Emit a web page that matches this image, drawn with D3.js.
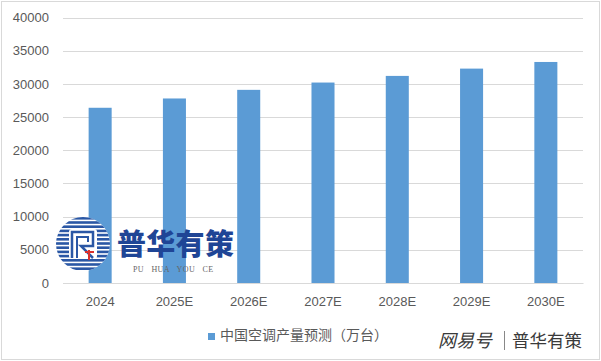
<!DOCTYPE html>
<html><head><meta charset="utf-8">
<script src="https://cdn.jsdelivr.net/npm/d3@7"></script>
<style>
html,body{margin:0;padding:0;background:#fff;}
svg{display:block;}
</style></head>
<body>
<svg id="chart" width="601" height="361"></svg>
<script>
const categories = ["2024","2025E","2026E","2027E","2028E","2029E","2030E"];
const values = [26400, 27800, 29100, 30200, 31200, 32300, 33300];
const yTicks = [0,5000,10000,15000,20000,25000,30000,35000,40000];
const seriesName = "中国空调产量预测（万台）";

const svg = d3.select("#chart");
const W = 601, H = 361;
const m = {left:63, right:18, top:17.5, bottom:78};

svg.append("rect").attr("x",1.5).attr("y",1.5).attr("width",W-3).attr("height",H-3)
  .attr("fill","#fff").attr("stroke","#d9d9d9").attr("stroke-width",1);

const x = d3.scaleBand().domain(categories).range([m.left, W-m.right]).paddingInner(0.69).paddingOuter(0.345);
const y = d3.scaleLinear().domain([0,40000]).range([H-m.bottom, m.top]);

// gridlines
svg.append("g").selectAll("line").data(yTicks).join("line")
  .attr("x1", m.left).attr("x2", W-m.right)
  .attr("y1", d=>Math.round(y(d))+0.5).attr("y2", d=>Math.round(y(d))+0.5)
  .attr("stroke","#d9d9d9").attr("stroke-width",1);

// y axis labels
const yAxis = d3.axisLeft(y).tickValues(yTicks).tickSize(0).tickPadding(14).tickFormat(d3.format("d"));
const yg = svg.append("g").attr("transform",`translate(${m.left},0)`).call(yAxis);
yg.select(".domain").remove();
yg.selectAll("text").attr("fill","#595959").attr("font-size",13).attr("font-family","Liberation Sans, Arial, sans-serif");

// bars
svg.append("g").selectAll("rect").data(values).join("rect")
  .attr("x",(d,i)=>x(categories[i])).attr("width",x.bandwidth())
  .attr("y",d=>y(d)).attr("height",d=>y(0)-y(d))
  .attr("fill","#5b9bd5");

// x axis
const xAxis = d3.axisBottom(x).tickSize(0).tickPadding(14);
const xg = svg.append("g").attr("transform",`translate(0,${y(0)})`).call(xAxis);
xg.select(".domain").attr("stroke","#d9d9d9");
xg.selectAll("text").attr("fill","#595959").attr("font-size",13).attr("font-family","Liberation Sans, Arial, sans-serif");

// legend
const lg = svg.append("g").attr("transform","translate(208,332)");
lg.append("rect").attr("width",7).attr("height",7).attr("y",1).attr("fill","#5b9bd5");
lg.append("text").attr("x",12).attr("y",8).attr("font-size",14).attr("fill","#595959")
  .attr("font-family","'Noto Sans CJK SC', sans-serif").text(seriesName);

// logo watermark
const logo = svg.append("g");
const cx = 83, cy = 244, r = 27;
svg.append("defs").append("clipPath").attr("id","circ").append("circle").attr("cx",cx).attr("cy",cy).attr("r",r);
logo.append("circle").attr("cx",cx).attr("cy",cy).attr("r",r).attr("fill","#fff");
const stripes = d3.range(cy-r, cy+r, 4.2);
logo.append("g").attr("clip-path","url(#circ)").selectAll("rect").data(stripes).join("rect")
  .attr("x",cx-r).attr("width",2*r).attr("y",d=>d).attr("height",2.6).attr("fill","#2a57a5");
logo.append("rect").attr("x",cx-14).attr("y",cy-15).attr("width",28).attr("height",30).attr("rx",3).attr("fill","#fff");
logo.append("path").attr("d",`M${cx-11},${cy+14} V${cy-12} H${cx+10} V${cy+2} H${cx-2} L${cx+10},${cy+14}`)
  .attr("fill","none").attr("stroke","#2a57a5").attr("stroke-width",2.5);
logo.append("path").attr("d",`M${cx-6},${cy+14} V${cy-7} H${cx+5} V${cy-2}`)
  .attr("fill","none").attr("stroke","#2a57a5").attr("stroke-width",2);
logo.append("path").attr("d",`M${cx+2},${cy+8} H${cx+11} M${cx+6},${cy+6} V${cy+16}`)
  .attr("fill","none").attr("stroke","#d9302c").attr("stroke-width",2);
logo.append("text").attr("x",117).attr("y",255).attr("font-size",29).attr("font-weight",900)
  .attr("fill","#1f4596").attr("letter-spacing",0.3)
  .attr("font-family","'Noto Sans CJK SC', sans-serif").text("普华有策");
logo.append("text").attr("x",133).attr("y",272).attr("font-size",8).attr("fill","#666")
  .attr("font-family","'Liberation Serif', serif").attr("letter-spacing",0.4).attr("word-spacing",5)
  .text("PU HUA YOU CE");

// site watermark
svg.append("text").attr("x",438).attr("y",347).attr("font-size",18).attr("fill","#3a3a3a")
  .attr("font-style","italic").attr("font-family","'Noto Sans CJK SC', sans-serif").text("网易号");
svg.append("line").attr("x1",504.5).attr("x2",504.5).attr("y1",331).attr("y2",350).attr("stroke","#888").attr("stroke-width",1);
svg.append("text").attr("x",512).attr("y",347).attr("font-size",17.5).attr("fill","#3a3a3a")
  .attr("font-family","'Noto Sans CJK SC', sans-serif").text("普华有策");
</script>
</body></html>
